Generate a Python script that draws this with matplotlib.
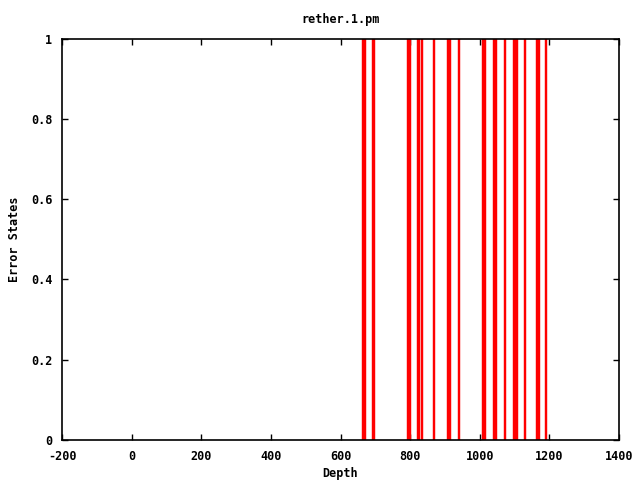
import matplotlib
matplotlib.use("Agg")
import matplotlib.pyplot as plt

depths = [666, 671, 692, 697, 795, 800, 822, 826, 834, 869, 910, 915, 941,
          1010, 1014, 1042, 1047, 1072, 1099, 1103, 1108, 1130, 1165, 1170, 1190]
errors = [1] * len(depths)

title = "rether.1.pm"
xlabel = "Depth"
ylabel = "Error States"
xticks = [-200, 0, 200, 400, 600, 800, 1000, 1200, 1400]
yticks = [0, 0.2, 0.4, 0.6, 0.8, 1]
ytick_labels = ["0", "0.2", "0.4", "0.6", "0.8", "1"]

plt.rcParams['font.family'] = ['DejaVu Sans Mono']
plt.rcParams['font.weight'] = 'bold'

fig = plt.figure(figsize=(6.4, 4.8), dpi=100)
ax = fig.add_axes([62/640, 1-440/480, (619-62)/640, (440-38.5)/480])
ax.vlines(depths, 0, errors, colors='#ff0000', linewidth=1.75)
ax.set_xlim(-200, 1400)
ax.set_ylim(0, 1)
ax.set_xticks(xticks)
ax.set_xticklabels([str(t) for t in xticks])
ax.set_yticks(yticks)
ax.set_yticklabels(ytick_labels)
ax.tick_params(direction='in', length=4, width=1, top=True, right=True, labelsize=8.5, pad=7)
for lab in ax.get_xticklabels() + ax.get_yticklabels():
    lab.set_fontweight('bold')
for s in ax.spines.values():
    s.set_linewidth(1.2)
ax.set_title(title, fontsize=8.5, fontweight='bold', pad=11)
ax.set_xlabel(xlabel, fontsize=8.5, fontweight='bold', labelpad=3)
ax.set_ylabel(ylabel, fontsize=8.5, fontweight='bold', labelpad=7)
fig.savefig("out.png", dpi=100)
